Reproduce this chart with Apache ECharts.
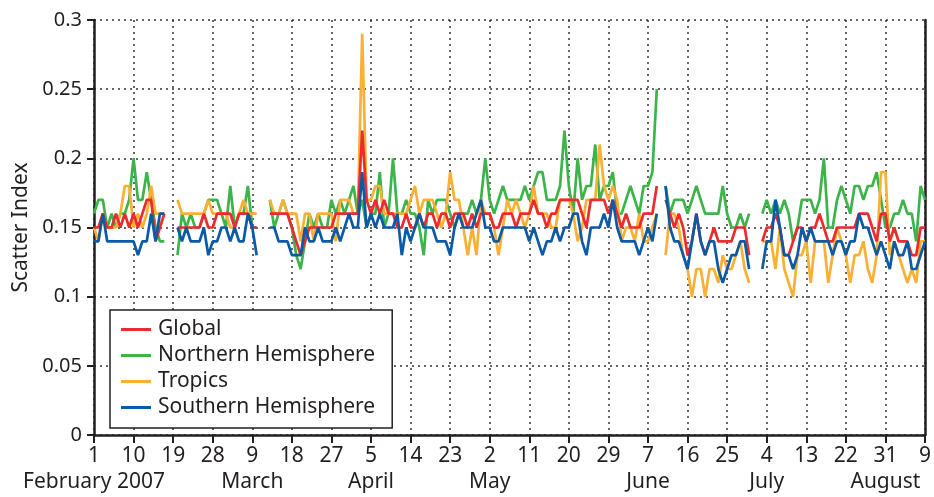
<!DOCTYPE html>
<html>
<head>
<meta charset="utf-8">
<script src="https://cdn.jsdelivr.net/npm/echarts@6/dist/echarts.min.js"></script>
<style>
html,body{margin:0;padding:0;background:#fff;}
#chart{width:934px;height:497px;}
</style>
</head>
<body>
<div id="chart"></div>
<script>
// Daily values, 1 Feb 2007 (index 0) to 9 Aug 2007 (index 189); null = no data
const globalVals = [
0.15,0.15,0.16,0.15,0.15,0.16,0.15,0.16,0.15,0.16,
0.15,0.16,0.17,0.17,0.14,0.15,0.16,null,null,0.15,
0.15,0.15,0.15,0.15,0.15,0.16,0.15,0.15,0.16,0.16,
0.16,0.16,0.15,0.16,0.16,0.16,0.15,0.15,null,null,
0.16,0.16,0.16,0.16,0.16,0.15,0.14,0.13,0.14,0.15,
0.15,0.15,0.15,0.15,0.15,0.16,0.16,0.16,0.16,0.16,
0.16,0.22,0.17,0.16,0.17,0.16,0.17,0.16,0.16,0.15,
0.15,0.16,0.15,0.15,0.16,0.15,0.16,0.16,0.15,0.16,
0.16,0.15,0.16,0.16,0.16,0.15,0.16,0.15,0.16,0.16,
0.16,0.15,0.15,0.16,0.16,0.16,0.15,0.16,0.16,0.16,
0.17,0.16,0.16,0.15,0.16,0.16,0.17,0.17,0.17,0.17,
0.17,0.16,0.15,0.17,0.17,0.17,0.17,0.16,0.17,0.16,
0.15,0.16,0.15,0.15,0.15,0.16,0.16,0.16,0.18,null,
0.17,0.16,0.15,0.16,0.15,0.13,0.14,0.16,0.14,0.13,
0.14,0.15,0.14,0.14,0.14,0.14,0.15,0.15,0.15,0.13,
null,null,0.14,0.15,0.15,0.16,0.15,0.13,0.13,0.14,
0.15,0.15,0.14,0.15,0.15,0.16,0.15,0.14,0.14,0.15,
0.15,0.15,0.15,0.15,0.16,0.16,0.16,0.15,0.14,0.16,
0.16,0.14,0.15,0.14,0.14,0.14,0.13,0.13,0.15,0.15
];
const northVals = [
0.16,0.17,0.17,0.15,0.16,0.15,0.16,0.16,0.17,0.20,
0.17,0.17,0.19,0.17,0.15,0.14,0.14,null,null,0.13,
0.16,0.15,0.16,0.15,0.15,0.16,0.17,0.17,0.17,0.16,
0.15,0.18,0.15,0.16,0.16,0.18,0.15,0.15,null,null,
0.17,0.15,0.16,0.17,0.16,0.15,0.13,0.12,0.14,0.16,
0.15,0.16,0.15,0.15,0.17,0.16,0.17,0.16,0.17,0.18,
0.16,0.17,0.15,0.16,0.16,0.19,0.15,0.16,0.20,0.16,
0.16,0.17,0.16,0.16,0.15,0.13,0.17,0.16,0.17,0.17,
0.17,0.16,0.15,0.16,0.16,0.16,0.17,0.16,0.17,0.20,
0.17,0.16,0.17,0.18,0.17,0.17,0.17,0.17,0.18,0.17,
0.18,0.19,0.19,0.17,0.17,0.17,0.18,0.22,0.18,0.16,
0.20,0.17,0.18,0.18,0.21,0.17,0.18,0.18,0.19,0.16,
0.16,0.17,0.18,0.17,0.16,0.18,0.18,0.19,0.25,null,
0.18,0.16,0.17,0.17,0.17,0.16,0.17,0.18,0.17,0.16,
0.16,0.16,0.16,0.18,0.16,0.15,0.15,0.16,0.15,0.16,
null,null,0.16,0.17,0.16,0.17,0.16,0.17,0.16,0.14,
0.15,0.17,0.17,0.17,0.16,0.17,0.20,0.15,0.15,0.17,
0.18,0.17,0.16,0.18,0.18,0.17,0.18,0.18,0.19,0.17,
0.15,0.15,0.16,0.16,0.17,0.16,0.16,0.14,0.18,0.17
];
const tropicsVals = [
0.15,0.14,0.16,0.15,0.15,0.15,0.16,0.18,0.18,0.15,
0.16,0.15,0.16,0.18,0.16,0.16,0.16,null,null,0.17,
0.16,0.16,0.16,0.16,0.16,0.16,0.17,0.16,0.16,0.16,
0.16,0.15,0.15,0.16,0.17,0.16,0.16,0.16,null,null,
0.17,0.16,0.16,0.17,0.16,0.16,0.16,0.14,0.16,0.16,
0.14,0.16,0.16,0.16,0.16,0.14,0.17,0.17,0.17,0.16,
0.16,0.29,0.17,0.17,0.18,0.18,0.16,0.16,0.16,0.16,
0.16,0.16,0.17,0.18,0.16,0.17,0.17,0.17,0.16,0.15,
0.16,0.19,0.17,0.17,0.15,0.13,0.15,0.13,0.17,0.16,
0.16,0.15,0.13,0.15,0.17,0.16,0.17,0.16,0.15,0.16,
0.18,0.16,0.16,0.16,0.15,0.15,0.17,0.17,0.17,0.16,
0.14,0.15,0.17,0.17,0.17,0.21,0.18,0.17,0.18,0.17,
0.14,0.15,0.15,0.14,0.16,0.14,0.14,0.15,0.16,null,
0.13,0.16,0.16,0.15,0.13,0.12,0.10,0.12,0.12,0.10,
0.12,0.12,0.11,0.13,0.12,0.12,0.13,0.14,0.12,0.11,
null,null,0.14,0.14,0.14,0.12,0.15,0.12,0.11,0.10,
0.13,0.13,0.14,0.11,0.14,0.14,0.14,0.11,0.13,0.15,
0.14,0.13,0.11,0.13,0.13,0.14,0.12,0.11,0.13,0.19,
0.19,0.13,0.14,0.13,0.12,0.11,0.12,0.11,0.14,0.14
];
const southVals = [
0.14,0.14,0.16,0.14,0.14,0.14,0.14,0.14,0.14,0.14,
0.13,0.14,0.14,0.16,0.14,0.16,0.16,null,null,0.15,
0.14,0.15,0.14,0.14,0.14,0.15,0.13,0.14,0.14,0.15,
0.15,0.14,0.15,0.14,0.14,0.16,0.15,0.13,null,null,
0.15,0.15,0.14,0.14,0.14,0.13,0.13,0.13,0.15,0.14,
0.14,0.15,0.14,0.14,0.14,0.15,0.14,0.15,0.16,0.15,
0.15,0.19,0.15,0.16,0.15,0.16,0.15,0.15,0.15,0.16,
0.13,0.15,0.14,0.15,0.16,0.15,0.15,0.15,0.14,0.14,
0.14,0.13,0.15,0.16,0.15,0.15,0.15,0.16,0.17,0.15,
0.15,0.14,0.14,0.15,0.15,0.15,0.15,0.15,0.15,0.14,
0.15,0.14,0.13,0.14,0.14,0.15,0.14,0.15,0.15,0.16,
0.16,0.14,0.13,0.15,0.15,0.15,0.16,0.15,0.17,0.15,
0.14,0.14,0.14,0.14,0.13,0.14,0.15,0.14,0.16,null,
0.18,0.15,0.14,0.14,0.13,0.12,0.14,0.16,0.14,0.13,
0.14,0.14,0.12,0.11,0.12,0.13,0.13,0.14,0.14,0.12,
null,null,0.12,0.14,0.14,0.17,0.15,0.13,0.13,0.12,
0.13,0.15,0.14,0.15,0.14,0.14,0.14,0.14,0.13,0.14,
0.14,0.13,0.14,0.14,0.16,0.15,0.15,0.14,0.13,0.14,
0.13,0.12,0.14,0.13,0.13,0.14,0.12,0.12,0.13,0.14
];
// Tick labels every 9 days and month labels beneath them
const tickLabels = ['1','10','19','28','9','18','27','5','14','23','2','11','20','29','7','16','25','4','13','22','31','9'];
const monthLabels = ['February 2007','','','','March','','','April','','','May','','','','June','','','July','','','August',''];
const seriesNames = ['Global','Northern Hemisphere','Tropics','Southern Hemisphere'];

// Daily categories from 1 Feb 2007
const categories = [];
for (let i = 0; i < globalVals.length; i++) {
  const d = new Date(Date.UTC(2007, 1, 1 + i));
  categories.push(d.toISOString().slice(0, 10));
}

const FONT = 'Noto Sans';
const TXT = '#231f20';
const FS = 21;
const gridLine = { show: true, lineStyle: { color: '#333', width: 1.5, type: [2, 4] } };
const isTick = idx => idx % 9 === 0;
const isMonth = idx => idx % 9 === 0 && monthLabels[idx / 9] !== '';

const chart = echarts.init(document.getElementById('chart'), null, { renderer: 'canvas' });
chart.setOption({
  animation: false,
  backgroundColor: '#fff',
  textStyle: { fontFamily: FONT, color: TXT },
  grid: { left: 94, right: 8, top: 20, bottom: 62, containLabel: false },
  legend: {
    orient: 'vertical',
    left: 110, top: 310,
    data: seriesNames,
    icon: 'rect',
    itemWidth: 30, itemHeight: 3,
    itemGap: 5,
    padding: [9, 17, 10, 11],
    backgroundColor: '#fff',
    borderColor: '#231f20', borderWidth: 1.5,
    textStyle: { fontFamily: FONT, fontSize: FS, color: TXT, lineHeight: 20, padding: [0, 0, 0, 2] }
  },
  xAxis: [{
    type: 'category',
    data: categories,
    boundaryGap: false,
    axisLine: { lineStyle: { color: TXT, width: 2.5 } },
    axisTick: { interval: 8, length: 8, inside: false, lineStyle: { color: TXT, width: 2 } },
    axisLabel: {
      interval: 8, margin: 11, fontFamily: FONT, fontSize: FS, color: TXT,
      showMinLabel: true, showMaxLabel: true, hideOverlap: false,
      formatter: (val, idx) => isTick(idx) ? tickLabels[idx / 9] : ''
    },
    splitLine: Object.assign({ interval: 8 }, gridLine)
  }, {
    type: 'category',
    data: categories,
    boundaryGap: false,
    position: 'bottom',
    offset: 26,
    axisLine: { show: false },
    axisTick: { show: false },
    splitLine: { show: false },
    axisLabel: {
      interval: (idx) => isMonth(idx), margin: 11, fontFamily: FONT, fontSize: FS, color: TXT,
      showMinLabel: true, showMaxLabel: true, hideOverlap: false,
      formatter: (val, idx) => isMonth(idx) ? monthLabels[idx / 9] : ''
    }
  }],
  yAxis: [{
    type: 'value', min: 0, max: 0.3, interval: 0.05,
    name: 'Scatter Index', nameLocation: 'middle', nameGap: 56,
    nameTextStyle: { fontFamily: FONT, fontSize: FS, color: TXT },
    axisLine: { show: true, lineStyle: { color: TXT, width: 2.5 } },
    axisTick: { show: true, length: 7, lineStyle: { color: TXT, width: 2 } },
    axisLabel: { margin: 12, fontFamily: FONT, fontSize: 20, color: TXT, showMinLabel: true, showMaxLabel: true,
      formatter: v => String(+v.toFixed(2)) },
    splitLine: gridLine
  }, {
    type: 'value', min: 0, max: 0.3, interval: 0.05, position: 'right',
    axisLine: { show: true, lineStyle: { color: TXT, width: 2.5 } },
    axisTick: { show: false }, axisLabel: { show: false }, splitLine: { show: false }
  }],
  series: [
    { name: 'Northern Hemisphere', type: 'line', data: northVals, showSymbol: false, symbol: 'none', z: 2,
      itemStyle: { color: '#3cb44a' }, lineStyle: { color: '#3cb44a', width: 2.7 } },
    { name: 'Tropics', type: 'line', data: tropicsVals, showSymbol: false, symbol: 'none', z: 3,
      itemStyle: { color: '#fbb033' }, lineStyle: { color: '#fbb033', width: 2.7 } },
    { name: 'Global', type: 'line', data: globalVals, showSymbol: false, symbol: 'none', z: 4,
      itemStyle: { color: '#ed2a2e' }, lineStyle: { color: '#ed2a2e', width: 2.7 } },
    { name: 'Southern Hemisphere', type: 'line', data: southVals, showSymbol: false, symbol: 'none', z: 5,
      itemStyle: { color: '#0b5aa6' }, lineStyle: { color: '#0b5aa6', width: 2.7 } }
  ]
});
</script>
</body>
</html>
